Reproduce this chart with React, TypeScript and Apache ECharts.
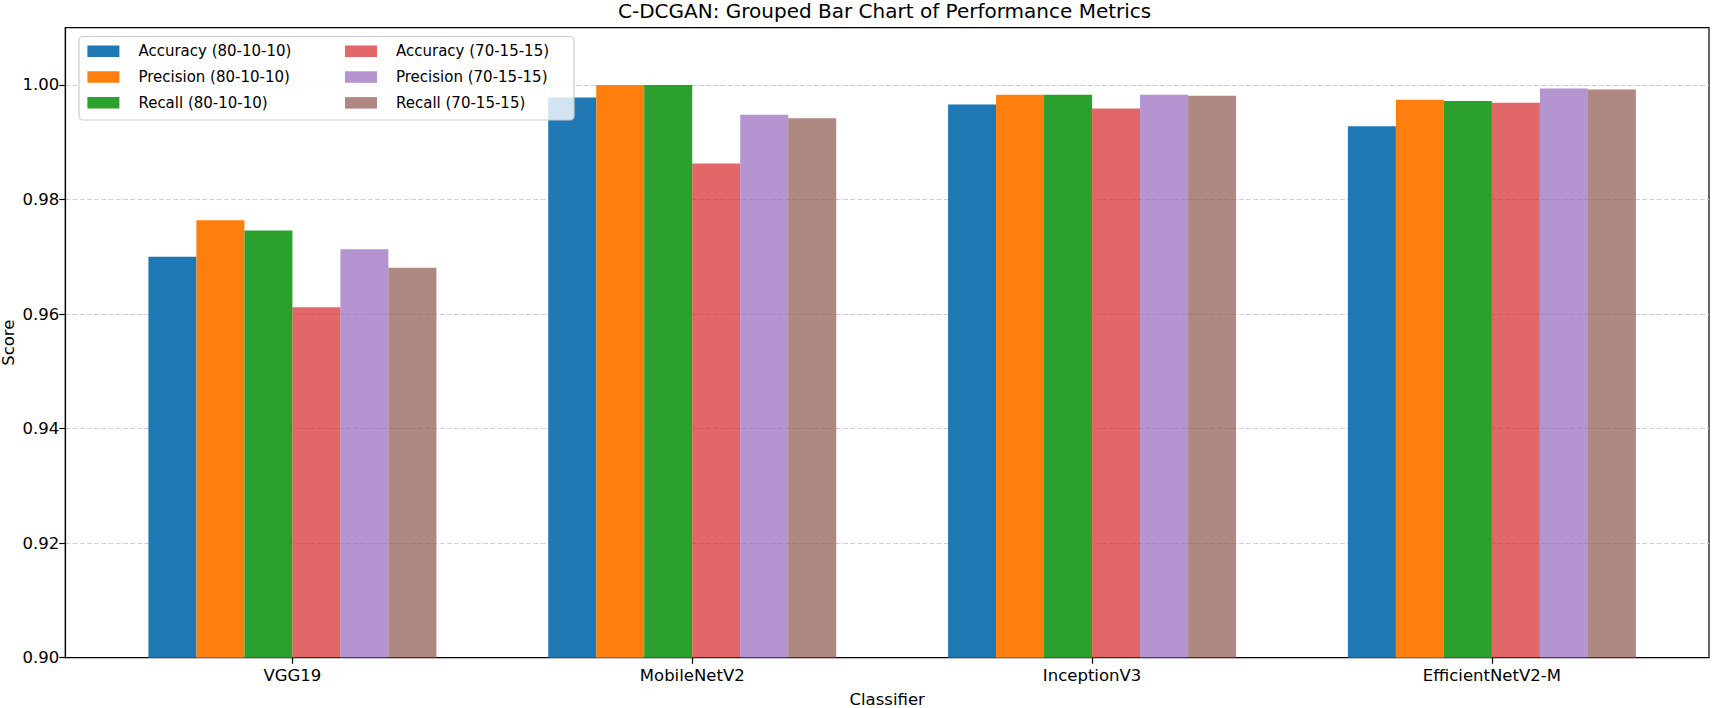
import React, { useEffect, useRef } from "react";
import * as echarts from "echarts";

const categories = ["VGG19", "MobileNetV2", "InceptionV3", "EfficientNetV2-M"];
const accuracy80 = [0.970, 0.9978, 0.9966, 0.9928];
const precision80 = [0.9764, 1.0, 0.9983, 0.9974];
const recall80 = [0.9746, 1.0, 0.9983, 0.9972];
const accuracy70 = [0.9612, 0.9863, 0.9959, 0.9969];
const precision70 = [0.9713, 0.9948, 0.9983, 0.9994];
const recall70 = [0.9681, 0.9942, 0.9981, 0.9992];
const yTicks = [0.9, 0.92, 0.94, 0.96, 0.98, 1.0];
const xTicks = [0, 1, 2, 3];

const seriesDefs = [
  { name: "Accuracy (80-10-10)", values: accuracy80, color: "#1f77b4" },
  { name: "Precision (80-10-10)", values: precision80, color: "#ff7f0e" },
  { name: "Recall (80-10-10)", values: recall80, color: "#2ca02c" },
  { name: "Accuracy (70-15-15)", values: accuracy70, color: "rgba(214,39,40,0.7)" },
  { name: "Precision (70-15-15)", values: precision70, color: "rgba(148,103,189,0.7)" },
  { name: "Recall (70-15-15)", values: recall70, color: "rgba(140,86,75,0.7)" },
];

const FONT = "DejaVu Sans";
const FS = 16.5;
const LFS = 15;

export default function App() {
  const ref = useRef<HTMLDivElement>(null);
  useEffect(() => {
    if (!ref.current) return;
    const chart = echarts.init(ref.current, null, { renderer: "svg" });
    const legendCommon = {
      orient: "vertical",
      top: 43.5,
      padding: 0,
      icon: "rect",
      itemWidth: 32,
      itemHeight: 11.5,
      itemGap: 10.3,
      selectedMode: false,
      textStyle: { fontFamily: FONT, fontSize: LFS, color: "#000", lineHeight: 15.5, padding: [0, 0, 0, 14] },
    };
    const axisLineStyle = { color: "#000", width: 1.2 };
    chart.setOption({
      animation: false,
      backgroundColor: "#fff",
      title: {
        text: "C-DCGAN: Grouped Bar Chart of Performance Metrics",
        left: 618,
        top: 1,
        padding: 0,
        textStyle: { fontFamily: FONT, fontSize: 20, fontWeight: "normal", color: "#000" },
      },
      graphic: [
        {
          type: "rect",
          shape: { x: 79, y: 36.5, width: 495, height: 83.5, r: 4 },
          style: { fill: "rgba(255,255,255,0.8)", stroke: "#cccccc", lineWidth: 1.2 },
          z: 3,
          silent: true,
        },
      ],
      legend: [
        { ...legendCommon, left: 87.4, data: seriesDefs.slice(0, 3).map((s) => s.name) },
        { ...legendCommon, left: 345, data: seriesDefs.slice(3).map((s) => s.name) },
      ],
      grid: {
        left: 65.3,
        right: 4,
        top: 27.7,
        bottom: 50.3,
        outerBoundsMode: "none",
        containLabel: false,
        show: true,
        borderColor: "#000",
        borderWidth: 1.2,
        backgroundColor: "transparent",
      },
      xAxis: {
        type: "value",
        min: -0.568,
        max: 3.543,
        name: "Classifier",
        nameLocation: "middle",
        nameGap: 33.5,
        nameTextStyle: { fontFamily: FONT, fontSize: FS, color: "#000" },
        axisLine: { show: true, onZero: false, lineStyle: axisLineStyle },
        splitLine: { show: false },
        axisTick: { show: true, length: 6, customValues: xTicks, lineStyle: axisLineStyle },
        axisLabel: {
          customValues: xTicks,
          margin: 9,
          fontFamily: FONT,
          fontSize: FS,
          color: "#000",
          formatter: (v: number) => categories[Math.round(v)] ?? "",
        },
      },
      yAxis: {
        type: "value",
        min: 0.9,
        max: 1.01,
        interval: 0.02,
        name: "Score",
        nameLocation: "middle",
        nameGap: 48,
        nameMoveOverlap: false,
        nameTextStyle: { fontFamily: FONT, fontSize: FS, color: "#000" },
        axisLine: { show: true, onZero: false, lineStyle: axisLineStyle },
        axisTick: { show: true, length: 6, customValues: yTicks, lineStyle: axisLineStyle },
        axisLabel: {
          customValues: yTicks,
          margin: 6,
          fontFamily: FONT,
          fontSize: FS,
          color: "#000",
          formatter: (v: number) => v.toFixed(2),
        },
        splitLine: { show: true, lineStyle: { color: "#cfcfcf", width: 1.2, type: [5, 2.2] } },
      },
      series: seriesDefs.map((s) => ({
        type: "bar",
        name: s.name,
        data: s.values.map((v, i) => [i, v]),
        barWidth: 48,
        barGap: "0%",
        itemStyle: { color: s.color },
      })),
    });
    return () => chart.dispose();
  }, []);
  return <div ref={ref} style={{ position: "fixed", left: 0, top: 0, width: 1713, height: 708 }} />;
}
